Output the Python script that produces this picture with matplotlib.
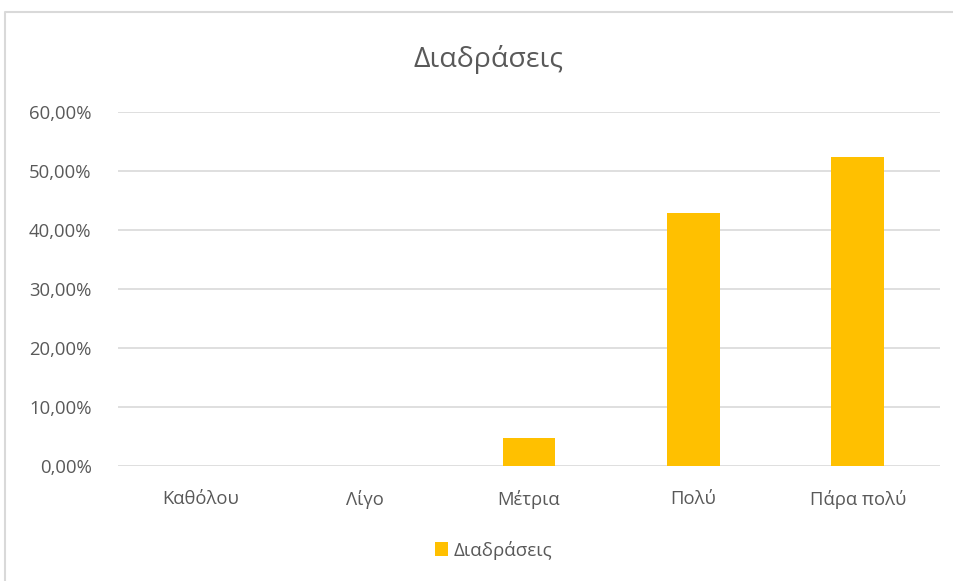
import matplotlib.pyplot as plt
from matplotlib.lines import Line2D
from matplotlib.ticker import FuncFormatter

categories = ['Καθόλου', 'Λίγο', 'Μέτρια', 'Πολύ', 'Πάρα πολύ']
values = [0.0, 0.0, 4.76, 42.86, 52.38]
yticks = [0, 10, 20, 30, 40, 50, 60]
series_name = 'Διαδράσεις'

plt.rcParams['font.family'] = ['Open Sans', 'DejaVu Sans']
grey = '#595959'

fig = plt.figure(figsize=(9.54, 5.81), dpi=100)
ax = fig.add_axes([118 / 954, 1 - 466 / 581, 822 / 954, 354 / 581])

# outer chart frame: only top and left edges are inside the image
fx, fy = 5.5 / 954, 1 - 12 / 581
fig.add_artist(Line2D([fx, fx, 1.0], [0.0, fy, fy], transform=fig.transFigure,
                      color='#D9D9D9', linewidth=1.5))

x = range(len(categories))
ax.bar(x, values, width=0.32, color='#FFC000', label=series_name, zorder=3)

ax.set_xlim(-0.5, len(categories) - 0.5)
ax.set_ylim(0, 60)
ax.set_yticks(yticks)
ax.yaxis.set_major_formatter(FuncFormatter(lambda v, p: ('%.2f%%' % v).replace('.', ',')))
ax.set_xticks(list(x))
ax.set_xticklabels(categories)
ax.grid(axis='y', color='#D9D9D9', linewidth=1.2, zorder=0)
for s in ax.spines.values():
    s.set_visible(False)
ax.tick_params(length=0, colors=grey, labelsize=13.3)
ax.tick_params(axis='y', pad=19)
ax.tick_params(axis='x', pad=17)

fig.text(489 / 954, 1 - 59 / 581, series_name, ha='center', va='center',
         fontsize=20.5, color=grey)

leg = fig.legend(loc='center', bbox_to_anchor=(494 / 954, 1 - 550 / 581),
                 frameon=False, handlelength=0.7, handleheight=0.7,
                 handletextpad=0.3, fontsize=13.5)
for t in leg.get_texts():
    t.set_color(grey)

fig.savefig('out.png', dpi=100)
